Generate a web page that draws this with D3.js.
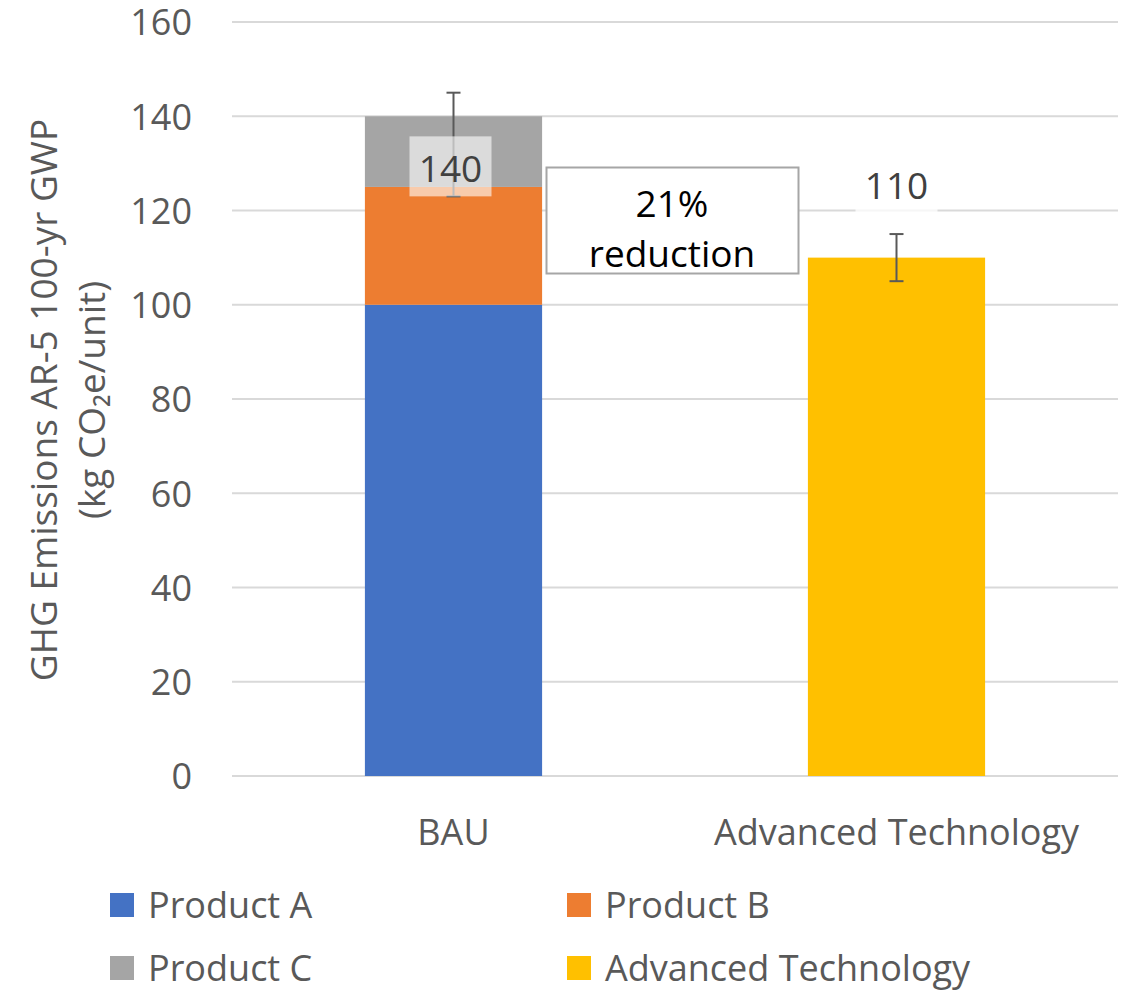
<!DOCTYPE html>
<html>
<head>
<meta charset="utf-8">
<script src="https://cdn.jsdelivr.net/npm/d3@7"></script>
<style>
  body { margin: 0; background: #fff; }
  text { font-family: "Open Sans", sans-serif; }
</style>
</head>
<body>
<div id="canvas"></div>
<script>
var width = 1128;
var height = 993;

// data
var categories = ["BAU", "Advanced Technology"];
var seriesNames = ["Product A", "Product B", "Product C", "Advanced Technology"];
var productA = [100, 0];
var productB = [25, 0];
var productC = [15, 0];
var advTech = [0, 110];
var totals = [140, 110];
var errLow = [123, 105];
var errHigh = [145, 115];
var yTicks = [0, 20, 40, 60, 80, 100, 120, 140, 160];
var colors = ["#4472C4", "#ED7D31", "#A5A5A5", "#FFC000"];

var svg = d3.select("#canvas").append("svg")
    .attr("width", width)
    .attr("height", height);

var margin = {left: 232, right: 10, top: 22, bottom: 217};

var x = d3.scaleBand()
    .domain(categories)
    .range([margin.left, width - margin.right])
    .paddingInner(0.6)
    .paddingOuter(0.3);

var y = d3.scaleLinear()
    .domain([0, 160])
    .range([height - margin.bottom, margin.top]);

// gridlines
svg.append("g").selectAll("line")
    .data(yTicks)
    .enter().append("line")
    .attr("x1", margin.left)
    .attr("x2", width - margin.right)
    .attr("y1", d => y(d))
    .attr("y2", d => y(d))
    .attr("stroke", "#d9d9d9")
    .attr("stroke-width", 2);

// y axis labels
var yAxis = d3.axisLeft(y).tickValues(yTicks).tickSize(0).tickPadding(0);
var ya = svg.append("g")
    .attr("transform", "translate(192,0)")
    .call(yAxis);
ya.select(".domain").remove();
ya.selectAll("text")
    .attr("fill", "#595959")
    .style("font-size", "36px")
    .style("font-family", "'Open Sans', sans-serif")
    .attr("dy", "0.36em");

// axis title
var title = svg.append("text")
    .attr("transform", "translate(57,400) rotate(-90)")
    .attr("text-anchor", "middle")
    .attr("fill", "#595959")
    .style("font-size", "37px");
title.append("tspan").attr("x", 0).attr("y", 0).text("GHG Emissions AR-5 100-yr GWP");
title.append("tspan").attr("x", 0).attr("y", 48).text("(kg CO\u2082e/unit)");

// stacked bars
var rows = categories.map(function(c, i) {
  return {cat: c, "Product A": productA[i], "Product B": productB[i], "Product C": productC[i], "Advanced Technology": advTech[i]};
});
var stack = d3.stack().keys(seriesNames)(rows);

svg.append("g").selectAll("g")
    .data(stack)
    .enter().append("g")
    .attr("fill", (d, i) => colors[i])
    .selectAll("rect")
    .data(d => d.filter(p => p[1] - p[0] > 0))
    .enter().append("rect")
    .attr("x", d => x(d.data.cat))
    .attr("width", x.bandwidth())
    .attr("y", d => y(d[1]))
    .attr("height", d => y(d[0]) - y(d[1]));

// error bars
var eb = svg.append("g").attr("stroke", "#595959").attr("stroke-width", 2);
categories.forEach(function(c, i) {
  var cx = x(c) + x.bandwidth() / 2;
  eb.append("line").attr("x1", cx).attr("x2", cx).attr("y1", y(errLow[i])).attr("y2", y(errHigh[i]));
  eb.append("line").attr("x1", cx - 7).attr("x2", cx + 7).attr("y1", y(errLow[i])).attr("y2", y(errLow[i]));
  eb.append("line").attr("x1", cx - 7).attr("x2", cx + 7).attr("y1", y(errHigh[i])).attr("y2", y(errHigh[i]));
});

// total labels (box bottom anchored at a value position)
var labelBottom = [123, 119.5];
var labelOpacity = [0.6, 0.75];
categories.forEach(function(c, i) {
  var cx = x(c) + x.bandwidth() / 2 - (i == 0 ? 3 : 0);
  var by = y(labelBottom[i]);
  svg.append("rect")
      .attr("x", cx - 41).attr("y", by - 60)
      .attr("width", 82).attr("height", 60)
      .attr("fill", "#fff")
      .attr("fill-opacity", labelOpacity[i]);
  svg.append("text")
      .attr("x", cx).attr("y", by - 14)
      .attr("text-anchor", "middle")
      .attr("fill", "#404040")
      .style("font-size", "37px")
      .text(totals[i]);
});

// reduction callout
var pct = Math.round((totals[0] - totals[1]) / totals[0] * 100);
svg.append("rect")
    .attr("x", 546.5).attr("y", 167.5)
    .attr("width", 252).attr("height", 106)
    .attr("fill", "#fff")
    .attr("stroke", "#a6a6a6")
    .attr("stroke-width", 2);
svg.append("text")
    .attr("x", 672).attr("y", 217)
    .attr("text-anchor", "middle")
    .attr("fill", "#000")
    .style("font-size", "37px")
    .text(pct + "%");
svg.append("text")
    .attr("x", 672).attr("y", 267)
    .attr("text-anchor", "middle")
    .attr("fill", "#000")
    .style("font-size", "37px")
    .text("reduction");

// x labels
svg.append("g").selectAll("text")
    .data(categories)
    .enter().append("text")
    .attr("x", d => x(d) + x.bandwidth() / 2)
    .attr("y", 845)
    .attr("text-anchor", "middle")
    .attr("fill", "#595959")
    .style("font-size", "36px")
    .text(d => d);

// legend
var legendX = [110, 567];
var legendY = [905, 968];
var lg = svg.append("g").selectAll("g")
    .data(seriesNames)
    .enter().append("g")
    .attr("transform", (d, i) => "translate(" + legendX[i % 2] + "," + legendY[Math.floor(i / 2)] + ")");
lg.append("rect")
    .attr("x", 0).attr("y", -12)
    .attr("width", 24).attr("height", 24)
    .attr("fill", (d, i) => colors[i]);
lg.append("text")
    .attr("x", 38).attr("y", 13)
    .attr("fill", "#595959")
    .style("font-size", "36px")
    .text(d => d);
</script>
</body>
</html>
